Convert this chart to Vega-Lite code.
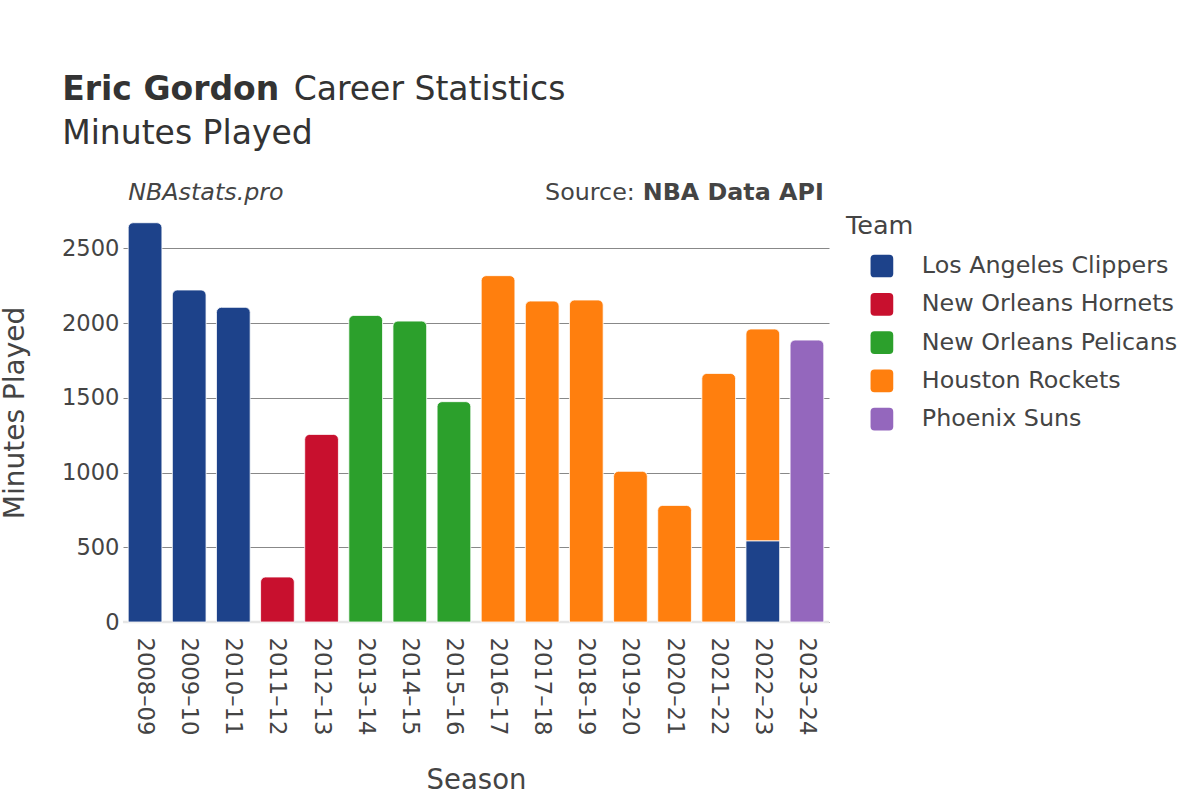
{
  "$schema": "https://vega.github.io/schema/vega-lite/v6.json",
  "autosize": {"type": "pad"},
  "padding": {"left": 1, "top": 73, "right": 0, "bottom": 0},
  "background": "white",
  "title": {
    "text": "Eric Gordon",
    "subtitle": "Minutes Played",
    "anchor": "start",
    "frame": "group",
    "dx": -60.8,
    "offset": -76.7,
    "font": "DejaVu Sans",
    "fontSize": 33,
    "fontWeight": "bold",
    "color": "#333333",
    "subtitleFont": "DejaVu Sans",
    "subtitleFontSize": 33,
    "subtitleFontWeight": "normal",
    "subtitleColor": "#333333",
    "subtitlePadding": 11
  },
  "vconcat": [
    {
      "title": {
        "text": "Career Statistics",
        "anchor": "start",
        "frame": "group",
        "dx": 170.7,
        "offset": 74,
        "font": "DejaVu Sans",
        "fontSize": 33,
        "fontWeight": "normal",
        "color": "#333333"
      },
      "width": 706,
      "height": 419,
      "layer": [
        {
          "data": {"values": [{"zero": 0}]},
          "mark": {"type": "rule", "color": "#e6e6e6", "strokeWidth": 2.5},
          "encoding": {
            "y": {"field": "zero", "type": "quantitative", "title": "Minutes Played"}
          }
        },
        {
          "data": {
            "values": [
              {"Season": "2008–09", "Team": "Los Angeles Clippers", "Minutes": 2671},
              {"Season": "2009–10", "Team": "Los Angeles Clippers", "Minutes": 2221},
              {"Season": "2010–11", "Team": "Los Angeles Clippers", "Minutes": 2105},
              {"Season": "2011–12", "Team": "New Orleans Hornets", "Minutes": 301},
              {"Season": "2012–13", "Team": "New Orleans Hornets", "Minutes": 1255},
              {"Season": "2013–14", "Team": "New Orleans Pelicans", "Minutes": 2051},
              {"Season": "2014–15", "Team": "New Orleans Pelicans", "Minutes": 2013},
              {"Season": "2015–16", "Team": "New Orleans Pelicans", "Minutes": 1474},
              {"Season": "2016–17", "Team": "Houston Rockets", "Minutes": 2317},
              {"Season": "2017–18", "Team": "Houston Rockets", "Minutes": 2147},
              {"Season": "2018–19", "Team": "Houston Rockets", "Minutes": 2154},
              {"Season": "2019–20", "Team": "Houston Rockets", "Minutes": 1008},
              {"Season": "2020–21", "Team": "Houston Rockets", "Minutes": 780},
              {"Season": "2021–22", "Team": "Houston Rockets", "Minutes": 1663},
              {"Season": "2022–23", "Team": "Los Angeles Clippers", "Minutes": 542},
              {"Season": "2022–23", "Team": "Houston Rockets", "Minutes": 1418},
              {"Season": "2023–24", "Team": "Phoenix Suns", "Minutes": 1886}
            ]
          },
          "transform": [
            {"stack": "Minutes", "groupby": ["Season"], "sort": [{"field": "Team", "order": "descending"}], "as": ["m0", "m1"]},
            {"joinaggregate": [{"op": "max", "field": "m1", "as": "top"}], "groupby": ["Season"]}
          ],
          "encoding": {
            "x": {
              "field": "Season",
              "type": "ordinal",
              "title": "Season",
              "scale": {
                "domain": ["2008–09", "2009–10", "2010–11", "2011–12", "2012–13", "2013–14", "2014–15", "2015–16", "2016–17", "2017–18", "2018–19", "2019–20", "2020–21", "2021–22", "2022–23", "2023–24"],
                "paddingInner": 0.236,
                "paddingOuter": 0.118
              },
              "axis": {
                "labelAngle": 90,
                "labelFontSize": 22.7,
                "labelColor": "#444444",
                "labelPadding": 15,
                "ticks": false,
                "domain": false,
                "titleFontSize": 27.5,
                "titleFontWeight": "normal",
                "titleColor": "#444444",
                "titlePadding": 32
              }
            },
            "y": {
              "field": "m1",
              "type": "quantitative",
              "title": "Minutes Played",
              "scale": {"domain": [0, 2803], "nice": false, "zero": true},
              "axis": {
                "values": [0, 500, 1000, 1500, 2000, 2500],
                "format": "d",
                "labelFontSize": 22.6,
                "labelColor": "#444444",
                "labelPadding": 4,
                "ticks": false,
                "tickSize": 0,
                "domain": false,
                "grid": true,
                "gridColor": "#888888",
                "gridWidth": 1,
                "titleFontSize": 28,
                "titleFontWeight": "normal",
                "titleColor": "#444444",
                "titlePadding": 32
              }
            },
            "y2": {"field": "m0"},
            "color": {
              "field": "Team",
              "type": "nominal",
              "scale": {
                "domain": ["Los Angeles Clippers", "New Orleans Hornets", "New Orleans Pelicans", "Houston Rockets", "Phoenix Suns"],
                "range": ["#1d428a", "#c8102e", "#2ca02c", "#ff7f0e", "#9467bd"]
              },
              "legend": {
                "orient": "right",
                "title": "Team",
                "offset": 3.5,
                "padding": 11,
                "titleFontSize": 25.5,
                "titleFontWeight": "normal",
                "titleColor": "#444444",
                "titlePadding": 14.6,
                "labelFontSize": 23.8,
                "labelColor": "#444444",
                "labelOffset": 28,
                "labelLimit": 400,
                "symbolOffset": 24,
                "symbolType": "M-0.65,-1H0.65Q1,-1,1,-0.65V0.65Q1,1,0.65,1H-0.65Q-1,1,-1,0.65V-0.65Q-1,-1,-0.65,-1Z",
                "symbolSize": 515,
                "symbolStrokeWidth": 0,
                "rowPadding": 13.3
              }
            }
          },
          "layer": [
            {
              "transform": [{"filter": "datum.m1 >= datum.top"}],
              "mark": {"type": "bar", "cornerRadiusTopLeft": 5, "cornerRadiusTopRight": 5, "stroke": "#ffffff", "strokeWidth": 0.8}
            },
            {
              "transform": [{"filter": "datum.m1 < datum.top"}],
              "mark": {"type": "bar", "stroke": "#ffffff", "strokeWidth": 0.8}
            }
          ]
        },
        {
          "data": {"values": [{"label": "NBAstats.pro", "season": "2008–09", "ymax": 2803}]},
          "mark": {"type": "text", "align": "left", "baseline": "alphabetic", "dy": -3, "fontSize": 23.8, "fontStyle": "italic", "color": "#444444"},
          "encoding": {
            "x": {"field": "season", "type": "ordinal", "bandPosition": 0},
            "y": {"field": "ymax", "type": "quantitative"},
            "text": {"field": "label"}
          }
        },
        {
          "data": {"values": [{"label": "NBA Data API", "season": "2023–24", "ymax": 2803}]},
          "mark": {"type": "text", "align": "right", "baseline": "alphabetic", "dy": -3, "fontSize": 23.8, "fontWeight": "bold", "color": "#444444"},
          "encoding": {
            "x": {"field": "season", "type": "ordinal", "bandPosition": 1},
            "y": {"field": "ymax", "type": "quantitative"},
            "text": {"field": "label"}
          }
        },
        {
          "data": {"values": [{"label": "Source:", "season": "2023–24", "ymax": 2803}]},
          "mark": {"type": "text", "align": "right", "baseline": "alphabetic", "dy": -3, "dx": -189, "fontSize": 23.8, "fontWeight": "normal", "color": "#444444"},
          "encoding": {
            "x": {"field": "season", "type": "ordinal", "bandPosition": 1},
            "y": {"field": "ymax", "type": "quantitative"},
            "text": {"field": "label"}
          }
        }
      ]
    }
  ],
  "config": {
    "font": "DejaVu Sans",
    "view": {"stroke": null},
    "axis": {"labelFont": "DejaVu Sans", "titleFont": "DejaVu Sans"},
    "legend": {"labelFont": "DejaVu Sans", "titleFont": "DejaVu Sans"}
  }
}
